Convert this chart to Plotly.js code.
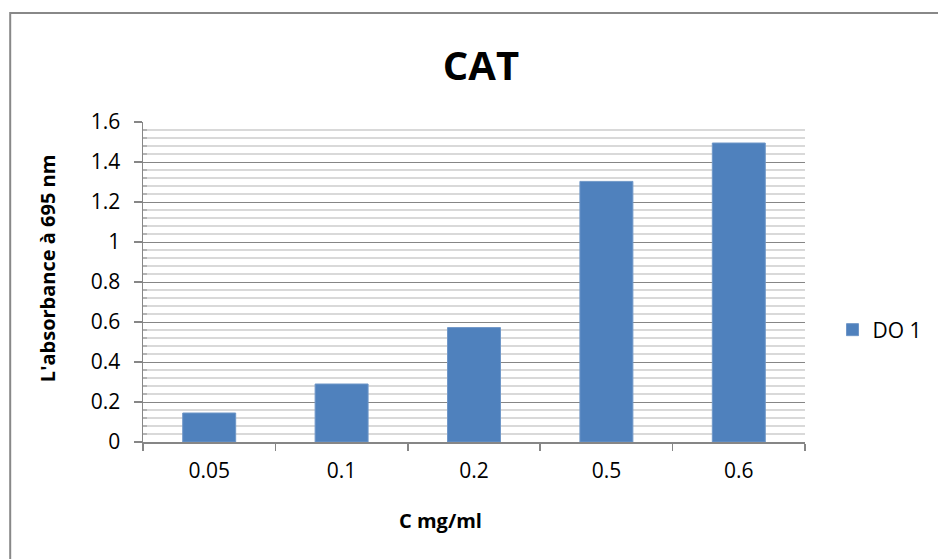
<!DOCTYPE html>
<html>
<head>
<meta charset="utf-8">
<script src="https://cdn.plot.ly/plotly-3.0.1.min.js"></script>
<style>
html,body{margin:0;padding:0;background:#fff;}
#chart{width:938px;height:559px;}
</style>
</head>
<body>
<div id="chart"></div>
<script>
const categories = ['0.05', '0.1', '0.2', '0.5', '0.6'];
const do1Values = [0.145, 0.29, 0.572, 1.303, 1.495];
const seriesName = 'DO 1';
const yTickVals = [0, 0.2, 0.4, 0.6, 0.8, 1, 1.2, 1.4, 1.6];
const yTickText = ['0', '0.2', '0.4', '0.6', '0.8', '1', '1.2', '1.4', '1.6'];
const chartTitle = 'CAT';
const xTitle = 'C mg/ml';
const yTitle = "L'absorbance à 695 nm";

const FONT = 'Open Sans, Liberation Sans, sans-serif';

// minor grid positions every 0.04 between the major 0.2 steps
const minorVals = [];
for (let i = 1; i < 40; i++) {
  if (i % 5 !== 0) minorVals.push(Math.round(i * 0.04 * 1000) / 1000);
}

// plot area geometry (pixels)
const L = 143, R = 806, T = 122, B = 442;
const PW = R - L, PH = B - T;
const px = X => (X - L) / PW;
const py = Y => (B - Y) / PH;

const trace = {
  type: 'bar',
  x: categories,
  y: do1Values,
  name: seriesName,
  marker: {color: '#4F81BD', line: {color: '#6f97c8', width: 1}},
  showlegend: true,
  hoverinfo: 'x+y'
};

const minorShapes = [];
minorVals.forEach(v => {
  minorShapes.push({
    type: 'line', xref: 'paper', yref: 'y',
    x0: 0, x1: 1, y0: v, y1: v,
    line: {color: '#b3b3b3', width: 1},
    layer: 'below'
  });
  minorShapes.push({
    type: 'line', xref: 'paper', yref: 'y',
    xsizemode: 'pixel', xanchor: 0,
    x0: 0, x1: 4, y0: v, y1: v,
    line: {color: '#8f8f8f', width: 1},
    layer: 'below'
  });
});

const layout = {
  width: 938,
  height: 559,
  margin: {l: L, r: 938 - R, t: T, b: 559 - B},
  paper_bgcolor: '#ffffff',
  plot_bgcolor: 'rgba(0,0,0,0)',
  font: {family: FONT, size: 22, color: '#000'},
  bargap: 0.6,
  showlegend: true,
  title: {
    text: chartTitle,
    font: {family: FONT, size: 40, color: '#000', weight: 'bold'},
    xref: 'paper', x: px(481.5), xanchor: 'center',
    yref: 'container', y: 1 - 65.5 / 559, yanchor: 'middle'
  },
  xaxis: {
    type: 'category',
    showline: true, linecolor: '#868686', linewidth: 1.5,
    ticks: 'outside', ticklen: 7, tickcolor: '#868686', tickwidth: 1.5,
    tickson: 'boundaries',
    showgrid: false,
    tickfont: {family: FONT, size: 21, color: '#000'},
    ticklabelstandoff: 9,
    zeroline: false,
    fixedrange: true
  },
  yaxis: {
    range: [0, 1.6],
    tickmode: 'array',
    tickvals: yTickVals,
    ticktext: yTickText,
    showline: true, linecolor: '#868686', linewidth: 1.5,
    ticks: 'outside', ticklen: 8, tickcolor: '#868686', tickwidth: 1.5,
    showgrid: true, gridcolor: '#868686', gridwidth: 1,
    zeroline: false,
    tickfont: {family: FONT, size: 21, color: '#000'},
    ticklabelstandoff: 9,
    fixedrange: true
  },
  legend: {
    x: 1.04, xanchor: 'left',
    y: py(330), yanchor: 'middle',
    font: {family: FONT, size: 21, color: '#000'},
    bgcolor: 'rgba(0,0,0,0)',
    itemwidth: 30
  },
  annotations: [
    {
      text: '<b>' + xTitle + '</b>',
      xref: 'paper', yref: 'paper',
      x: px(441), y: py(520),
      xanchor: 'center', yanchor: 'middle',
      showarrow: false,
      font: {family: FONT, size: 20, color: '#000'}
    },
    {
      text: '<b>' + yTitle + '</b>',
      xref: 'paper', yref: 'paper',
      x: px(47), y: py(268),
      xanchor: 'center', yanchor: 'middle',
      textangle: -90,
      showarrow: false,
      font: {family: FONT, size: 20, color: '#000'}
    }
  ],
  shapes: [
    {
      type: 'rect', xref: 'paper', yref: 'paper',
      x0: px(10), x1: px(945),
      y0: py(570), y1: py(13),
      line: {color: '#888888', width: 2},
      fillcolor: 'rgba(0,0,0,0)',
      layer: 'below'
    }
  ].concat(minorShapes)
};

Plotly.newPlot('chart', [trace], layout, {displayModeBar: false, staticPlot: true});
</script>
</body>
</html>
